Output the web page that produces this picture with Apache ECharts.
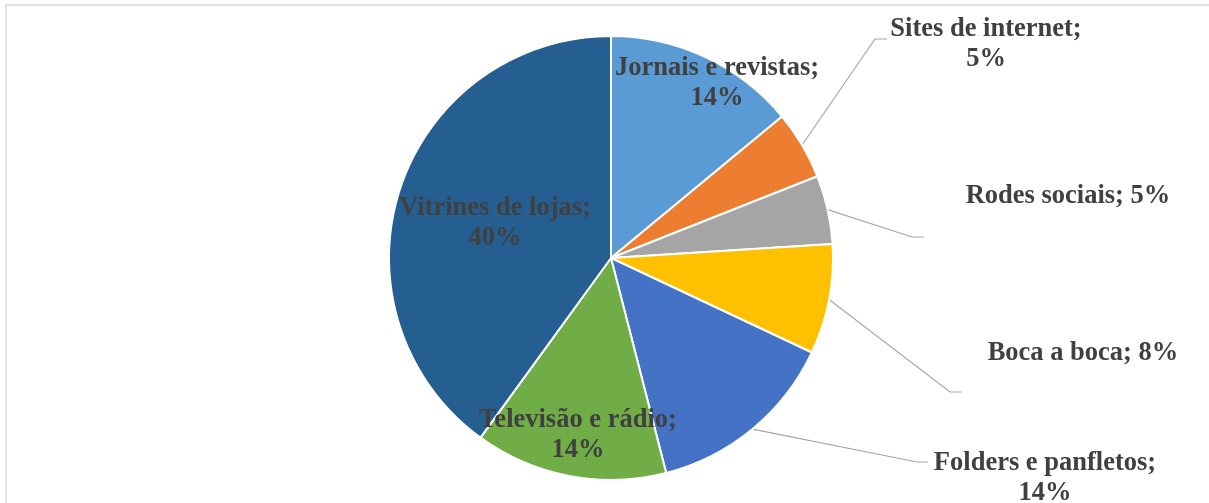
<!DOCTYPE html>
<html>
<head>
<meta charset="utf-8">
<script src="https://cdn.jsdelivr.net/npm/echarts@6/dist/echarts.min.js"></script>
<style>html,body{margin:0;padding:0;background:#fff}#c{width:1209px;height:503px}</style>
</head>
<body>
<div id="c"></div>
<script>
const categories = ['Jornais e revistas', 'Sites de internet', 'Rodes sociais', 'Boca a boca', 'Folders e panfletos', 'Televisão e rádio', 'Vitrines de lojas'];
const values = [14, 5, 5, 8, 14, 14, 40];
const labelTexts = ['Jornais e revistas;\n14%', 'Sites de internet;\n5%', 'Rodes sociais; 5%', 'Boca a boca; 8%', 'Folders e panfletos;\n14%', 'Televisão e rádio;\n14%', 'Vitrines de lojas;\n40%'];
const colors = ['#5B9BD5', '#ED7D31', '#A5A5A5', '#FFC000', '#4472C4', '#70AD47', '#255E91'];
// label layout (centre of label block) and leader elbow/end points; null = no leader
const labelPos = [[717, 83], [986, 44], [1068, 196], [1083, 353], [1045, 478], [578, 435], [495, 223]];
const leaders = [null, [[875, 39], [887, 39]], [[912, 237], [924, 237]], [[950, 392], [962, 392]], [[917, 462], [928, 462]], null, null];

const chart = echarts.init(document.getElementById('c'), null, {renderer: 'canvas'});
chart.setOption({
  animation: false,
  backgroundColor: '#fff',
  graphic: [{
    type: 'rect', shape: {x: 6, y: 5, width: 1300, height: 600},
    style: {fill: 'none', stroke: '#d9d9d9', lineWidth: 1.5}, silent: true
  }],
  series: [{
    type: 'pie',
    center: [611, 258],
    radius: [0, 222],
    startAngle: 90,
    clockwise: true,
    avoidLabelOverlap: false,
    itemStyle: {borderColor: '#fff', borderWidth: 2},
    label: {
      show: true, position: 'outside',
      fontFamily: '"Liberation Serif", "Times New Roman", serif',
      fontWeight: 'bold', fontSize: 26.5, lineHeight: 30, color: '#404040',
      align: 'center', verticalAlign: 'middle',
      formatter: p => labelTexts[p.dataIndex]
    },
    labelLine: {show: true, length: 10, length2: 10, smooth: false, lineStyle: {color: '#A6A6A6', width: 1.2}},
    labelLayout: function (params) {
      const i = params.dataIndex;
      const res = {x: labelPos[i][0], y: labelPos[i][1], align: 'center', verticalAlign: 'middle', hideOverlap: false, moveOverlap: null};
      if (leaders[i] && params.labelLinePoints) {
        res.labelLinePoints = [params.labelLinePoints[0], leaders[i][0], leaders[i][1]];
      }
      return res;
    },
    data: categories.map((c, i) => ({
      name: c, value: values[i],
      itemStyle: {color: colors[i]},
      labelLine: {show: !!leaders[i]}
    }))
  }]
});
</script>
</body>
</html>
